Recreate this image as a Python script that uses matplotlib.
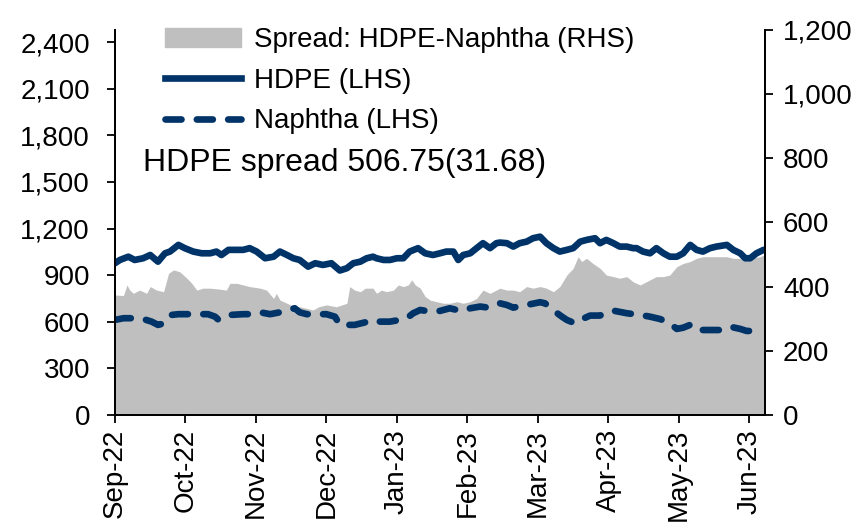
import matplotlib.pyplot as plt
from matplotlib.patches import Patch
from matplotlib.lines import Line2D

plt.rcParams['font.family'] = ['Liberation Sans', 'DejaVu Sans']

months = ["Sep-22", "Oct-22", "Nov-22", "Dec-22", "Jan-23", "Feb-23",
          "Mar-23", "Apr-23", "May-23", "Jun-23"]

# x positions are in months since Sep-22
hdpe_x = [0.00, 0.07, 0.19, 0.28, 0.40, 0.50, 0.61, 0.71, 0.78, 0.90, 0.99, 1.11,
          1.23, 1.35, 1.44, 1.51, 1.61, 1.70, 1.82, 1.91, 2.01, 2.13, 2.25, 2.34,
          2.44, 2.53, 2.62, 2.74, 2.84, 2.95, 3.07, 3.19, 3.29, 3.38, 3.48, 3.57,
          3.66, 3.71, 3.81, 3.90, 4.00, 4.09, 4.18, 4.30, 4.40, 4.51, 4.61, 4.70,
          4.80, 4.87, 4.94, 5.04, 5.13, 5.22, 5.32, 5.41, 5.46, 5.56, 5.65, 5.74,
          5.84, 5.93, 6.03, 6.12, 6.22, 6.31, 6.41, 6.50, 6.60, 6.69, 6.81, 6.88,
          6.97, 7.07, 7.16, 7.26, 7.35, 7.40, 7.49, 7.59, 7.68, 7.78, 7.87, 7.97,
          8.06, 8.16, 8.25, 8.34, 8.44, 8.53, 8.68, 8.77, 8.87, 8.94, 9.01, 9.10, 9.20]
hdpe = [977, 998, 1019, 998, 1009, 1030, 987, 1041, 1052, 1095, 1074, 1052,
        1041, 1041, 1052, 1030, 1063, 1063, 1063, 1074, 1052, 1009, 1019, 1052,
        1030, 1009, 998, 955, 977, 966, 977, 930, 945, 977, 987, 1009,
        1019, 1009, 998, 998, 1009, 1009, 1052, 1074, 1041, 1030, 1041, 1052,
        1052, 998, 1030, 1041, 1074, 1106, 1074, 1106, 1110, 1106, 1084, 1106,
        1116, 1138, 1148, 1106, 1074, 1052, 1063, 1074, 1116, 1127, 1138, 1106,
        1127, 1106, 1084, 1084, 1074, 1074, 1052, 1041, 1074, 1041, 1019, 1019,
        1041, 1095, 1063, 1052, 1074, 1084, 1095, 1063, 1041, 1009, 1009, 1041, 1063]

naphtha_x = [0.00, 0.12, 0.26, 0.40, 0.52, 0.61, 0.71, 0.80, 0.90, 1.06, 1.21, 1.32,
             1.42, 1.47, 1.63, 1.82, 1.91, 2.06, 2.20, 2.34, 2.44, 2.55, 2.62, 2.72,
             2.86, 3.00, 3.12, 3.19, 3.29, 3.40, 3.50, 3.59, 3.66, 3.76, 3.90, 4.04,
             4.14, 4.23, 4.33, 4.47, 4.61, 4.75, 4.85, 4.94, 5.04, 5.18, 5.30, 5.39,
             5.46, 5.56, 5.65, 5.72, 5.89, 6.03, 6.10, 6.24, 6.34, 6.41, 6.52, 6.60,
             6.74, 6.88, 6.97, 7.09, 7.26, 7.45, 7.59, 7.73, 7.85, 7.97, 8.06, 8.18,
             8.30, 8.44, 8.58, 8.72, 8.87, 8.96, 9.10, 9.20]
naphtha = [612, 623, 623, 618, 601, 580, 591, 644, 649, 649, 649, 649,
           633, 612, 644, 649, 649, 661, 649, 661, 676, 687, 661, 649,
           649, 649, 633, 580, 580, 580, 591, 601, 612, 601, 601, 612,
           623, 655, 676, 666, 670, 687, 676, 670, 687, 698, 691, 708,
           719, 708, 691, 698, 713, 726, 719, 666, 633, 612, 591, 612,
           640, 640, 661, 670, 655, 644, 633, 618, 597, 554, 562, 584,
           547, 547, 547, 569, 554, 541, 541, 533]

spread_x = [0.00, 0.12, 0.17, 0.21, 0.26, 0.35, 0.40, 0.45, 0.50, 0.59, 0.69, 0.76,
            0.83, 0.92, 1.02, 1.09, 1.16, 1.25, 1.35, 1.49, 1.58, 1.63, 1.73, 1.82,
            1.91, 2.06, 2.15, 2.25, 2.29, 2.34, 2.44, 2.55, 2.62, 2.72, 2.81, 2.89,
            3.00, 3.14, 3.29, 3.33, 3.40, 3.48, 3.55, 3.66, 3.71, 3.78, 3.85, 3.95,
            4.02, 4.09, 4.16, 4.21, 4.26, 4.33, 4.40, 4.47, 4.56, 4.66, 4.75, 4.85,
            4.94, 5.04, 5.13, 5.22, 5.32, 5.41, 5.46, 5.56, 5.65, 5.74, 5.84, 5.93,
            6.03, 6.12, 6.22, 6.31, 6.41, 6.50, 6.57, 6.62, 6.69, 6.78, 6.88, 6.97,
            7.07, 7.16, 7.26, 7.35, 7.45, 7.59, 7.68, 7.78, 7.87, 7.97, 8.06, 8.16,
            8.25, 8.34, 8.53, 8.68, 8.77, 8.91, 9.01, 9.15, 9.20]
spread = [374, 372, 405, 389, 379, 389, 384, 379, 400, 389, 384, 441,
          452, 446, 426, 410, 389, 395, 395, 392, 389, 410, 410, 405,
          400, 395, 389, 363, 379, 358, 348, 337, 337, 332, 327, 337,
          343, 337, 348, 400, 389, 384, 395, 395, 379, 389, 384, 389,
          405, 400, 405, 421, 405, 395, 369, 358, 353, 348, 348, 353,
          348, 353, 363, 389, 379, 389, 395, 389, 389, 384, 400, 395,
          400, 395, 384, 400, 436, 457, 493, 478, 488, 472, 457, 436,
          431, 426, 431, 415, 405, 421, 431, 431, 436, 462, 472, 478,
          488, 493, 493, 493, 488, 488, 488, 493, 498]

navy = '#003468'
grey = '#BFBFBF'
fs = 20
dash = (2.4, 2.3)

fig = plt.figure(figsize=(8.67, 5.22), dpi=100)
ax = fig.add_axes([0.1326, 0.205, 0.7497, 0.738])
ax2 = ax.twinx()

# spread area sits behind the lines
ax2.fill_between(spread_x, spread, 0, color=grey, lw=0)
ax.set_zorder(ax2.get_zorder() + 1)
ax.patch.set_visible(False)

ax.plot(hdpe_x, hdpe, color=navy, lw=4.8, solid_capstyle='round', solid_joinstyle='round')
ax.plot(naphtha_x, naphtha, color=navy, lw=4.8, dashes=dash,
        dash_capstyle='round', dash_joinstyle='round')

ax.set_xlim(0, 9.22)
ax.set_ylim(0, 2480)
ax2.set_ylim(0, 1200)
ax.set_xticks(range(len(months)))
ax.set_xticklabels(months, rotation=90, fontsize=fs)
ax.set_yticks(range(0, 2401, 300))
ax.set_yticklabels([f"{v:,}" for v in range(0, 2401, 300)], fontsize=fs)
ax2.set_yticks(range(0, 1201, 200))
ax2.set_yticklabels([f"{v:,}" for v in range(0, 1201, 200)], fontsize=fs)

for a in (ax, ax2):
    a.spines['top'].set_visible(False)
    for s in ('left', 'right', 'bottom'):
        a.spines[s].set_linewidth(1.3)
    a.tick_params(length=6, width=1.3, colors='black', pad=7)
ax.tick_params(axis='y', pad=12)
ax.tick_params(axis='x', pad=4)

handles = [Patch(color=grey),
           Line2D([], [], color=navy, lw=4.8),
           Line2D([], [], color=navy, lw=4.8, dashes=dash, dash_capstyle='round')]
labels = ["Spread: HDPE-Naphtha (RHS)", "HDPE (LHS)", "Naphtha (LHS)"]
ax.legend(handles, labels, loc='upper left', bbox_to_anchor=(0.06, 1.035),
          frameon=False, fontsize=fs, handlelength=2.75, handletextpad=0.45,
          labelspacing=0.52, borderaxespad=0)

ax.text(0.043, 0.655, "HDPE spread 506.75(31.68)", transform=ax.transAxes,
        fontsize=23, va='center', ha='left')

fig.savefig("out.png", dpi=100)
